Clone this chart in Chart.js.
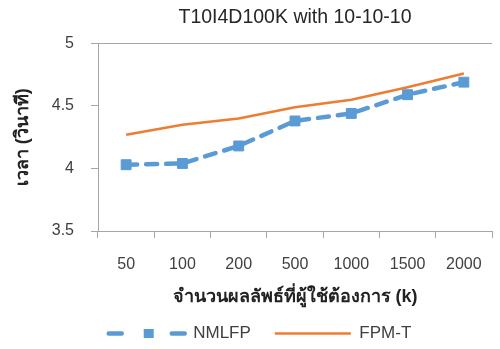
<!DOCTYPE html>
<html>
<head>
<meta charset="utf-8">
<script src="https://cdn.jsdelivr.net/npm/chart.js@4/dist/chart.umd.min.js"></script>
<style>
  html, body { margin: 0; padding: 0; background: #fff; }
  #wrap { width: 500px; height: 349px; }
</style>
</head>
<body>
<div id="wrap"><canvas id="timeChart"></canvas></div>
<script>
var labels = ['50', '100', '200', '500', '1000', '1500', '2000'];
var nmlfp = [4.03, 4.04, 4.18, 4.38, 4.44, 4.59, 4.69];
var fpmT = [4.27, 4.35, 4.40, 4.49, 4.55, 4.65, 4.76];
var yTicks = [3.5, 4, 4.5, 5];

var axisGray = '#a6a6a6';
var blue = '#5b9bd5';
var orange = '#ed7d31';
var FONT = '"Liberation Sans", "Noto Sans", sans-serif';

// square marker in the middle of the dashed legend line
var legendMarker = {
    id: 'legendMarker',
    afterDraw: function (chart) {
        var lg = chart.legend;
        if (!lg || !lg.legendHitBoxes || !lg.legendHitBoxes.length) return;
        var hb = lg.legendHitBoxes[0];
        var cx = hb.left + 40;
        var cy = hb.top + hb.height / 2;
        var c = chart.ctx;
        c.save();
        c.fillStyle = blue;
        c.fillRect(cx - 5, cy - 4.5, 10, 9);
        c.restore();
    }
};

var chart = new Chart(document.getElementById('timeChart').getContext('2d'), {
    type: 'line',
    data: {
        labels: labels,
        datasets: [
            {
                label: 'NMLFP',
                data: nmlfp,
                borderColor: blue,
                backgroundColor: blue,
                borderWidth: 4.5,
                borderDash: [11, 9],
                borderCapStyle: 'round',
                pointStyle: 'rect',
                pointRadius: 7,
                pointBorderWidth: 1,
                pointBackgroundColor: blue,
                pointBorderColor: blue,
                tension: 0
            },
            {
                label: 'FPM-T',
                data: fpmT,
                borderColor: orange,
                backgroundColor: orange,
                borderWidth: 2.5,
                pointRadius: 0,
                tension: 0
            }
        ]
    },
    options: {
        responsive: true,
        maintainAspectRatio: false,
        animation: false,
        layout: { padding: { left: 20, right: 0, top: 0, bottom: -3 } },
        plugins: {
            title: {
                display: true,
                text: 'T10I4D100K with 10-10-10',
                fullSize: false,
                color: '#262626',
                font: { family: FONT, size: 19.5, weight: 'normal' },
                padding: { top: 6, bottom: 14 }
            },
            legend: {
                position: 'bottom',
                labels: {
                    usePointStyle: true,
                    pointStyle: 'line',
                    pointStyleWidth: 76,
                    padding: 24,
                    color: '#404040',
                    font: { family: FONT, size: 17 },
                    generateLabels: function (c) {
                        var items = Chart.defaults.plugins.legend.labels.generateLabels(c);
                        items[0].lineDash = [13, 50];
                        items[0].lineCap = 'round';
                        items[0].lineWidth = 4.5;
                        items[1].lineWidth = 2.5;
                        return items;
                    }
                }
            },
            tooltip: { enabled: false }
        },
        scales: {
            x: {
                offset: true,
                grid: {
                    offset: true,
                    drawOnChartArea: false,
                    tickColor: axisGray,
                    tickLength: 7,
                    lineWidth: 1
                },
                border: { display: true, color: axisGray, width: 1 },
                ticks: {
                    color: '#404040',
                    font: { family: FONT, size: 16 },
                    padding: 17,
                    maxRotation: 0
                },
                title: {
                    display: true,
                    text: 'จำนวนผลลัพธ์ที่ผู้ใช้ต้องการ (k)',
                    color: '#222',
                    font: { family: FONT, size: 18, weight: 'bold' },
                    padding: { top: 0, bottom: -7 }
                },
                afterFit: function (scale) { scale.height = 70; }
            },
            y: {
                min: 3.5,
                max: 5,
                afterBuildTicks: function (scale) {
                    scale.ticks = yTicks.map(function (v) { return { value: v }; });
                },
                grid: {
                    color: function (ctx) {
                        return ctx.tick && ctx.tick.value === 5 ? axisGray : 'rgba(0,0,0,0)';
                    },
                    tickColor: axisGray,
                    tickLength: 7,
                    lineWidth: 1
                },
                border: { display: true, color: axisGray, width: 1 },
                ticks: {
                    color: '#404040',
                    font: { family: FONT, size: 16 },
                    padding: 17,
                    callback: function (v) { return String(v); }
                },
                title: {
                    display: true,
                    text: 'เวลา (วินาที)',
                    color: '#222',
                    font: { family: FONT, size: 18, weight: 'bold' },
                    padding: { top: -8, bottom: 0 }
                },
                afterFit: function (scale) { scale.width = 78; }
            }
        }
    },
    plugins: [legendMarker]
});
</script>
</body>
</html>
